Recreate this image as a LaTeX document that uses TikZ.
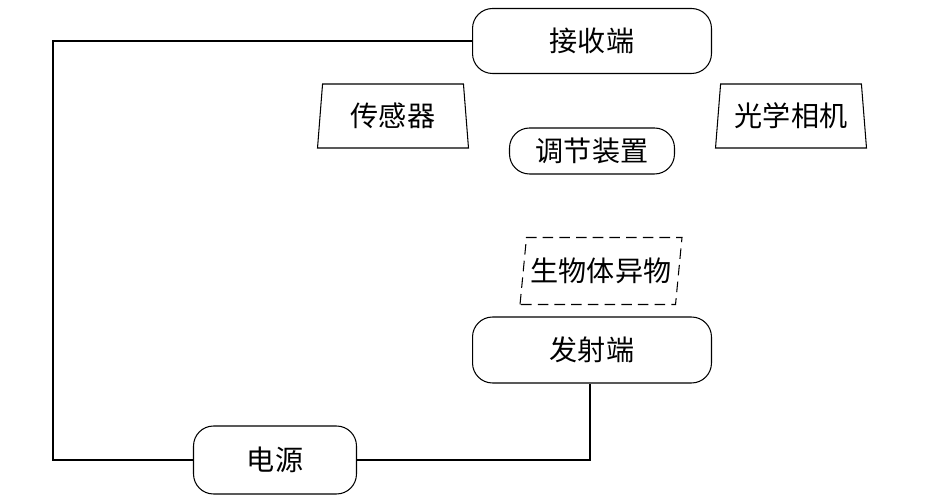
\documentclass[tikz,border=0pt]{standalone}
\usepackage{fontspec}
\newfontfamily\cjk{Noto Sans CJK SC}
\usetikzlibrary{shapes.geometric}

\begin{document}
\begin{tikzpicture}[x=0.02cm, y=-0.02cm, line width=0.6pt,
        font=\cjk\fontsize{16}{19}\selectfont,
        unit/.style={rectangle, draw=black, rounded corners=0.4cm, inner sep=0pt},
        part/.style={trapezium, draw=black, trapezium left angle=79, trapezium right angle=79,
            trapezium stretches body, minimum width=3.02cm, minimum height=1.28cm, inner sep=0pt},
        target/.style={trapezium, draw=black, dash pattern=on 6pt off 3.5pt, trapezium left angle=76,
            trapezium right angle=104, trapezium stretches body, minimum width=3.24cm,
            minimum height=1.34cm, inner sep=0pt}]
        \useasboundingbox (0, 0) rectangle (945, 502);
        % ends and power
        \node[unit, minimum width=4.78cm, minimum height=1.3cm] (recv) at (592, 41) {接收端};
        \node[unit, minimum width=4.78cm, minimum height=1.32cm] (emit) at (592, 350) {发射端};
        \node[unit, minimum width=3.26cm, minimum height=1.36cm] (power) at (275, 460) {电源};
        \node[unit, minimum width=3.3cm, minimum height=0.92cm] (adjust) at (592, 151) {调节装置};
        % parts
        \node[part] (sensor) at (393, 116) {传感器};
        \node[part] (camera) at (791, 116) {光学相机};
        \node[target] (foreign) at (601, 271) {生物体异物};
        % wiring
        \coordinate (C1) at (53, 41);
        \coordinate (C2) at (53, 460);
        \coordinate (C3) at (590, 460);
        \draw (recv.west) -- (C1) -- (C2) -- (power.west);
        \draw (power.east) -- (C3) -- (emit.south -| C3);
    \end{tikzpicture}
\end{document}
